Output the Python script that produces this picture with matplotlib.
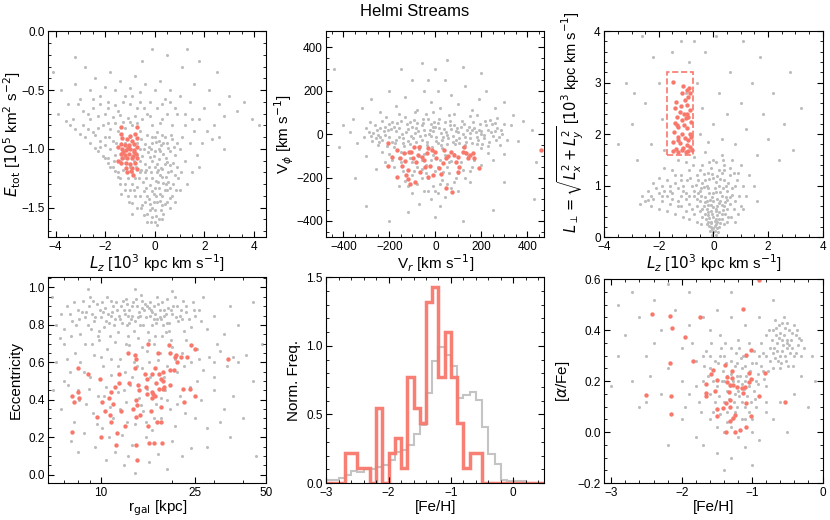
import numpy as np
import matplotlib
matplotlib.use('Agg')
import matplotlib.pyplot as plt
from matplotlib.ticker import AutoMinorLocator, FixedLocator, NullFormatter, ScalarFormatter
from matplotlib.patches import Rectangle

plt.rcParams['font.family'] = ['Liberation Sans', 'DejaVu Sans']
plt.rcParams['mathtext.fontset'] = 'dejavusans'

# colores
cor_fundo = '#bdbdbd'
cor_helmi = '#f8786c'

# ---- Lz vs Etot ----
helmi_lz_e = [(-1.38, -0.81), (-0.71, -0.81), (-1.36, -0.87), (-0.78, -0.87), (-1.33, -0.91),
              (-1.12, -0.92), (-0.92, -0.93), (-0.71, -0.91), (-1.38, -0.96), (-1.22, -0.97),
              (-1.04, -0.97), (-0.85, -0.96), (-0.71, -0.98), (-1.33, -1.00), (-1.15, -1.01),
              (-0.99, -1.00), (-0.83, -1.01), (-1.38, -1.04), (-1.22, -1.05), (-1.04, -1.04),
              (-0.87, -1.06), (-0.74, -1.04), (-1.33, -1.08), (-1.12, -1.08), (-0.92, -1.08),
              (-0.71, -1.08), (-1.38, -1.12), (-1.18, -1.12), (-0.99, -1.13), (-0.78, -1.12),
              (-1.15, -1.16), (-0.92, -1.16), (-1.12, -1.20), (-0.96, -1.19), (-0.88, -1.22),
              (-0.71, -1.17), (-1.29, -1.03), (-0.85, -1.03), (-1.10, -0.99), (-1.50, -1.10),
              (-1.48, -0.98), (-1.02, -0.89)]
fundo_lz_e = [(-0.3, -0.88), (0.1, -0.86), (0.4, -0.9), (0.7, -0.92), (-0.1, -0.95), (0.25, -0.97),
              (0.55, -0.99), (-0.45, -1.0), (0.0, -1.02), (0.35, -1.04), (0.8, -1.05), (-0.2, -1.07),
              (0.15, -1.09), (0.5, -1.11), (-0.4, -1.13), (0.0, -1.15), (0.3, -1.17), (0.65, -1.19),
              (-0.15, -1.2), (0.2, -1.22), (0.45, -1.24), (-0.35, -1.25), (0.05, -1.27), (0.35, -1.29),
              (0.75, -1.3), (-0.2, -1.31), (0.15, -1.33), (0.5, -1.35), (-0.45, -1.36), (-0.05, -1.38),
              (0.3, -1.4), (0.6, -1.42), (-0.25, -1.43), (0.1, -1.45), (0.4, -1.47), (-0.5, -1.48),
              (-0.1, -1.5), (0.25, -1.52), (-0.3, -1.55), (0.05, -1.57), (0.3, -1.6), (-0.15, -1.62),
              (0.1, -1.65), (-0.6, -1.4), (-0.7, -1.32), (-0.8, -1.25), (0.9, -1.15), (1.0, -1.0),
              (0.95, -1.25), (1.2, -1.1), (1.1, -0.9), (0.6, -1.5), (0.7, -0.8), (0.2, -0.78),
              (-0.1, -1.1), (0.1, -1.2), (-0.25, -0.98), (0.45, -1.08), (0.2, -1.38), (-0.35, -1.18),
              (0.55, -1.28), (0.0, -1.33), (-0.05, -1.45), (0.15, -0.93), (0.6, -1.14), (-0.2, -1.52),
              (-2.5, -0.65), (-2.2, -0.62), (-1.9, -0.6), (-1.6, -0.63), (-1.3, -0.6), (-1.0, -0.62),
              (-0.7, -0.65), (-2.3, -0.72), (-2.0, -0.7), (-1.7, -0.73), (-1.4, -0.71), (-1.1, -0.74),
              (-0.8, -0.72), (-0.5, -0.75), (-2.1, -0.8), (-1.8, -0.83), (-1.5, -0.85), (-1.2, -0.82),
              (-0.9, -0.8), (-0.6, -0.85), (-2.0, -0.9), (-1.7, -0.93), (-1.0, -0.9), (-0.7, -0.95),
              (-1.8, -1.0), (-1.6, -1.05), (-1.9, -1.08), (-1.7, -1.15), (-1.5, -1.2), (-1.3, -1.18),
              (-1.1, -1.25), (-0.9, -1.2), (-0.6, -1.1), (-1.2, -1.3), (-1.0, -1.35), (-0.8, -1.4),
              (-1.4, -1.25), (-0.6, -1.2), (-0.9, -1.3), (-3.9, -0.7), (-3.6, -0.76), (-3.4, -0.8),
              (-3.2, -0.83), (-3.0, -0.87), (-2.8, -0.9), (-2.6, -0.95), (-2.4, -0.99), (-2.3, -1.02),
              (-2.1, -1.06), (-2.0, -1.08), (-1.9, -1.12), (-1.8, -1.15), (-1.6, -1.19), (-1.5, -1.24),
              (-1.4, -1.3), (-1.2, -1.35), (-1.1, -1.4), (-0.9, -1.46), (-0.7, -1.5), (-3.3, -0.75),
              (-2.9, -0.8), (-2.5, -0.86), (-2.7, -0.83), (-2.2, -0.93), (-2.4, -0.88), (-4.1, -0.35),
              (-3.8, -0.5), (-3.5, -0.62), (-3.2, -0.45), (-3.0, -0.58), (-2.8, -0.3), (-2.6, -0.5),
              (-2.4, -0.4), (-2.2, -0.55), (-2.0, -0.47), (-1.8, -0.35), (-1.6, -0.5), (-1.4, -0.42),
              (-1.2, -0.55), (-1.0, -0.48), (-0.8, -0.38), (-0.6, -0.52), (-0.4, -0.45), (-0.2, -0.6),
              (0.0, -0.5), (0.2, -0.42), (0.4, -0.58), (0.6, -0.5), (0.8, -0.65), (1.0, -0.55),
              (1.2, -0.7), (1.4, -0.6), (1.6, -0.45), (1.8, -0.75), (2.0, -0.65), (2.2, -0.5),
              (2.4, -0.8), (2.6, -0.62), (2.8, -0.72), (3.0, -0.55), (3.3, -0.68), (3.6, -0.6),
              (3.9, -0.75), (4.2, -0.8), (2.5, -0.35), (1.1, -0.3), (-0.5, -0.25), (-3.2, -0.22),
              (-0.1, -0.15), (1.8, -0.25), (0.5, -0.2), (1.3, -0.15), (1.3, -1.3), (1.5, -1.2),
              (1.7, -1.05), (1.4, -0.95), (1.6, -0.85), (1.9, -0.95), (2.1, -0.85), (2.3, -0.92),
              (1.2, -0.8), (1.0, -1.35), (0.8, -1.45), (1.5, -0.75), (2.6, -0.9), (2.8, -1.0),
              (1.8, -1.15), (0.9, -0.7), (-0.3, -0.7), (0.1, -0.65), (0.5, -0.7), (-0.1, -0.8),
              (0.3, -0.75), (0.6, -0.6), (-0.6, -0.6)]
fundo_lz_e_denso = [(-0.55, -0.92), (-0.38, -0.96), (-0.12, -0.9), (0.05, -0.94), (0.28, -0.88),
                    (0.48, -0.95), (0.62, -1.02), (0.78, -0.98), (-0.5, -1.06), (-0.28, -1.03),
                    (-0.05, -1.06), (0.22, -1.02), (0.4, -1.13), (0.72, -1.12), (-0.55, -1.18),
                    (-0.25, -1.15), (0.08, -1.13), (0.25, -1.16), (0.52, -1.2), (0.82, -1.22),
                    (-0.48, -1.28), (-0.12, -1.25), (0.12, -1.28), (0.3, -1.24), (0.62, -1.33),
                    (-0.35, -1.33), (-0.1, -1.36), (0.4, -1.35), (0.05, -1.4), (-0.4, -1.45),
                    (0.22, -1.44), (0.5, -1.45), (-0.2, -1.47), (0.0, -1.52), (0.35, -1.55),
                    (-0.45, -1.56), (-0.1, -1.58), (0.18, -1.6), (-0.3, -1.62), (0.0, -1.62),
                    (0.65, -0.88), (0.9, -0.95), (0.85, -1.35), (1.05, -1.2), (-0.7, -1.05),
                    (-0.75, -1.15), (-0.65, -1.25), (-0.85, -1.35), (-0.55, -1.5), (0.15, -1.0),
                    (0.35, -0.95), (-0.15, -1.0), (-0.38, -1.2), (0.45, -1.3), (0.12, -1.18),
                    (-0.3, -1.4), (0.28, -1.48), (0.7, -1.4), (-0.6, -1.0), (0.0, -0.9),
                    (-2.6, -0.75), (-2.3, -0.82), (-1.9, -0.78), (-1.6, -0.78), (-1.3, -0.77),
                    (-1.0, -0.77), (-0.7, -0.78), (-2.2, -0.98), (-2.0, -0.97), (-1.85, -0.9),
                    (-1.55, -0.95), (-1.2, -0.95), (-1.65, -1.1), (-1.4, -1.1), (-1.25, -1.08),
                    (-1.0, -1.15), (-0.85, -1.1), (-1.35, -1.38), (-1.05, -1.45), (-0.9, -1.55),
                    (-2.5, -0.58), (-2.9, -0.68), (-3.1, -0.62), (-2.7, -0.7), (-0.45, -0.65),
                    (-0.2, -0.72), (0.3, -0.62), (-0.9, -0.55), (-1.5, -0.68), (-1.9, -0.65)]

# ---- Vr vs Vphi ----
helmi_vr_vphi = [(-204, -43), (-204, -148), (-190, -105), (-167, -71), (-167, -197), (-152, -108),
                 (-146, -148), (-138, -89), (-132, -123), (-128, -189), (-120, -166), (-117, -209),
                 (-109, -228), (-106, -82), (-99, -112), (-91, -58), (-88, -220), (-84, -128),
                 (-77, -97), (-70, -58), (-65, -174), (-59, -105), (-51, -120), (-45, -151),
                 (-36, -89), (-30, -197), (-22, -148), (-16, -74), (-12, -189), (-1, -82), (3, -112),
                 (17, -158), (25, -182), (32, -135), (39, -74), (46, -108), (46, -248), (57, -102),
                 (72, -266), (80, -97), (90, -128), (97, -174), (100, -105), (104, -151), (119, -82),
                 (126, -58), (133, -89), (141, -108), (152, -97), (162, -89), (170, -108), (191, -158),
                 (462, -74), (-113, -82), (-33, -66), (68, -82)]
fundo_vr_vphi = [(-290, 10), (-260, -20), (-240, 30), (-220, -5), (-200, 45), (-190, -35), (-170, 15),
                 (-150, 60), (-140, -20), (-120, 25), (-110, -45), (-90, 5), (-80, 50), (-60, -25),
                 (-50, 20), (-30, 70), (-20, -10), (0, 35), (10, -40), (25, 5), (40, 55), (55, -20),
                 (70, 25), (85, -45), (100, 10), (115, 60), (130, -15), (145, 35), (160, -40), (175, 10),
                 (195, 45), (210, -20), (230, 20), (250, -10), (270, 30), (290, 0), (310, -25),
                 (-310, -15), (-230, 60), (-130, 80), (-40, 95), (60, 90), (150, 85), (240, 65),
                 (-180, -60), (-70, -70), (30, -65), (120, -60), (200, -65), (-250, -50), (280, -50),
                 (-275, -30), (-205, 20), (-160, -15), (-100, 35), (-45, -5), (-10, 15), (35, -15),
                 (80, 40), (120, 0), (185, -25), (220, 40), (260, 15), (-120, -30), (-20, 45),
                 (90, -25), (160, 20), (-60, 40), (15, 70), (-180, 35), (200, 0), (-240, -15),
                 (-200, -90), (-160, -110), (-130, -85), (-100, -130), (-70, -100), (-40, -140),
                 (-10, -95), (20, -120), (50, -150), (80, -90), (110, -130), (140, -100), (170, -120),
                 (-220, -130), (-180, -150), (-60, -160), (0, -170), (60, -180), (120, -165), (200, -140),
                 (-140, -170), (-100, -190), (-30, -200), (30, -210), (90, -200), (-80, -230), (-10, -240),
                 (50, -230), (-130, -215), (10, -270), (-50, -260), (70, -250), (-20, -300), (40, -290),
                 (-100, -270), (100, -260), (-160, -240), (150, -220), (20, -330), (-70, -320),
                 (-320, 120), (-280, 160), (-240, 100), (-200, 200), (-170, 130), (-130, 170), (-100, 250),
                 (-80, 110), (-50, 200), (-20, 150), (0, 300), (20, 120), (40, 250), (70, 180), (100, 140),
                 (130, 220), (160, 110), (190, 160), (220, 200), (260, 120), (300, 150), (340, 90),
                 (-360, 70), (-60, 330), (50, 340), (200, 280), (-150, 300), (120, 310), (10, 200),
                 (-30, 250), (380, 60), (-400, 40), (420, 20), (-340, -40), (-370, 10), (330, 40),
                 (360, -30), (300, -90), (-300, -100), (250, -120), (-260, -160), (-420, -60),
                 (440, -130), (-440, 300), (430, -300), (-350, -200), (300, -220), (-300, -330),
                 (250, -350), (-200, -400), (0, -380), (120, -400), (-120, -360)]
fundo_vr_vphi_denso = [(-270, 5), (-245, -35), (-225, 15), (-210, -55), (-195, 25), (-175, -40), (-165, 50),
                       (-145, 0), (-135, -55), (-125, 45), (-105, -10), (-95, 65), (-85, -35), (-75, 15),
                       (-65, -55), (-55, 70), (-35, -35), (-25, 20), (-15, -60), (-5, 55), (5, -15), (15, 30),
                       (25, -50), (45, 10), (50, -45), (65, 60), (75, -10), (95, 30), (105, -40), (125, 45),
                       (135, -35), (150, 5), (165, 55), (180, -15), (190, 20), (205, -45), (215, 60),
                       (235, -35), (245, 45), (265, -25), (285, 20), (300, 45), (-300, 30), (-285, 55),
                       (-255, 20), (-215, 80), (-160, 95), (-90, 100), (-10, 100), (80, 95), (180, 90),
                       (270, 75), (-230, -80), (-150, -80), (-50, -90), (40, -95), (130, -80), (230, -85),
                       (-110, -110), (-20, -120), (70, -125), (160, -150), (-190, -120), (-80, -150),
                       (100, -180), (-40, -180), (20, -230), (-120, -240), (80, -220), (0, -260),
                       (-60, -200), (130, -200), (-280, -10), (-262, 40), (-248, -5), (-232, -25),
                       (-218, 35), (-202, -15), (-188, 55), (-172, -25), (-158, 30), (-142, -40),
                       (-128, 10), (-112, 55), (-98, -20), (-82, 30), (-68, -10), (-52, 50), (-38, -50),
                       (-28, 0), (-12, 35), (2, -30), (12, 50), (28, -25), (38, 25), (52, -5), (62, 40),
                       (78, -35), (88, 15), (102, -20), (112, 35), (128, -50), (138, 20), (152, -20),
                       (168, 30), (182, -45), (198, 15), (212, -5), (228, -55), (242, 10), (258, 50),
                       (275, -15), (-60, -120), (10, -150), (-150, -130), (60, -130), (150, -170),
                       (-30, -260), (35, -175), (-95, -170)]

# ---- Lz vs Lperp ----
helmi_lz_lperp = [(-1.47, 3.02), (-1.11, 2.94), (-0.98, 2.85), (-0.90, 2.90), (-1.16, 2.79), (-0.92, 2.72),
                  (-1.04, 2.66), (-1.38, 2.63), (-0.98, 2.56), (-0.86, 2.47), (-1.41, 2.50), (-1.23, 2.43),
                  (-1.07, 2.40), (-1.35, 2.34), (-0.92, 2.34), (-1.16, 2.27), (-1.02, 2.31), (-1.41, 2.21),
                  (-0.82, 2.23), (-1.29, 2.14), (-0.98, 2.11), (-1.43, 2.04), (-1.14, 2.01), (-0.86, 2.01),
                  (-1.31, 1.95), (-1.04, 1.92), (-0.92, 1.89), (-1.47, 1.85), (-1.23, 1.82), (-0.98, 1.79),
                  (-1.38, 1.72), (-1.11, 1.73), (-0.86, 1.75), (-1.29, 1.66), (-1.02, 1.65), (-1.16, 1.69),
                  (-1.47, 1.67), (-0.93, 1.67), (-0.82, 1.95), (-1.35, 2.17), (-1.07, 2.17), (-1.20, 2.55),
                  (-0.95, 2.40), (-1.29, 1.89), (-0.80, 1.70), (-0.84, 2.80)]
fundo_lz_lperp = [(0.0, 0.1), (-0.1, 0.2), (0.1, 0.25), (-0.2, 0.3), (0.2, 0.35), (0.0, 0.4), (-0.3, 0.45),
                  (0.3, 0.45), (-0.1, 0.5), (0.1, 0.55), (-0.4, 0.55), (0.4, 0.6), (-0.2, 0.62), (0.2, 0.66),
                  (-0.5, 0.7), (0.0, 0.7), (0.5, 0.72), (-0.3, 0.78), (0.3, 0.8), (-0.7, 0.8), (0.7, 0.82),
                  (0.0, 0.85), (-0.5, 0.9), (0.5, 0.9), (-0.2, 0.95), (0.2, 1.0), (-0.8, 1.0), (0.8, 1.0),
                  (-0.4, 1.05), (0.4, 1.1), (0.0, 1.15), (-0.6, 1.2), (0.6, 1.2), (-0.2, 1.25), (0.2, 1.3),
                  (-0.9, 1.3), (0.9, 1.25), (-0.4, 1.4), (0.4, 1.4), (0.0, 1.5), (-0.7, 1.55), (0.7, 1.5),
                  (-0.3, 1.65), (0.3, 1.6), (0.1, 0.05), (-0.05, 0.15), (0.15, 0.18), (-0.25, 0.25),
                  (0.25, 0.28), (0.05, 0.32), (-0.15, 0.38), (0.12, 0.42), (-0.35, 0.6), (0.35, 0.52),
                  (-0.6, 0.6), (0.6, 0.65), (-0.1, 0.3), (0.05, 0.22), (-0.2, 0.48), (0.15, 0.6),
                  (-0.05, 0.78), (0.25, 0.88), (-0.35, 0.98), (0.1, 1.08), (-0.15, 1.12), (0.45, 0.78),
                  (-0.45, 0.8), (0.0, 0.58), (-1.0, 0.5), (-1.3, 0.6), (-1.6, 0.65), (-1.9, 0.7),
                  (-2.2, 0.75), (-2.5, 0.7), (-2.7, 0.65), (-1.2, 0.8), (-1.5, 0.85), (-1.8, 0.9),
                  (-2.1, 0.95), (-2.4, 0.9), (-1.1, 1.0), (-1.4, 1.05), (-1.7, 1.1), (-2.0, 1.15),
                  (-1.2, 1.2), (-1.5, 1.3), (-1.8, 1.35), (-1.1, 0.4), (-1.4, 0.45), (-0.9, 0.65),
                  (-2.0, 0.55), (-2.3, 0.6), (-1.0, 1.45), (-1.3, 1.5), (1.0, 0.6), (1.2, 0.8), (0.9, 0.45),
                  (1.1, 1.0), (1.3, 1.2), (1.0, 1.4), (1.5, 1.0), (0.8, 0.3), (1.6, 0.7), (-3.5, 1.8),
                  (-3.0, 2.2), (-2.8, 1.5), (-2.5, 2.6), (-2.3, 1.8), (-2.0, 3.0), (-2.2, 3.5), (-1.9, 2.3),
                  (-2.6, 3.9), (-1.5, 3.6), (-1.2, 3.8), (-0.9, 3.4), (-0.6, 3.0), (-0.4, 2.5), (-0.5, 2.0),
                  (-0.3, 3.6), (0.0, 2.2), (0.2, 2.8), (0.3, 1.9), (0.5, 2.4), (0.6, 3.2), (0.8, 1.8),
                  (1.0, 2.6), (1.2, 2.1), (1.4, 3.0), (1.6, 1.6), (1.8, 2.4), (2.0, 1.9), (2.2, 2.8),
                  (2.4, 1.5), (2.6, 2.2), (2.9, 1.7), (3.2, 2.5), (1.7, 3.5), (-1.0, 2.8), (-0.2, 1.85),
                  (-3.2, 3.0), (-1.8, 1.7), (0.1, 3.9), (-0.7, 3.8), (2.8, 3.2), (-2.9, 2.8), (1.1, 3.8)]
fundo_lz_lperp_denso = [(-0.05, 0.05), (0.05, 0.12), (-0.12, 0.12), (0.18, 0.1), (-0.08, 0.28), (0.08, 0.35),
                        (-0.28, 0.35), (0.3, 0.35), (-0.18, 0.42), (0.22, 0.48), (-0.4, 0.4), (0.42, 0.45),
                        (-0.08, 0.62), (0.3, 0.62), (-0.5, 0.5), (0.5, 0.55), (-0.25, 0.7), (0.15, 0.75),
                        (-0.6, 0.75), (0.6, 0.78), (-0.15, 0.85), (0.35, 0.95), (-0.45, 0.95), (0.05, 0.95),
                        (-0.7, 0.9), (0.7, 0.95), (-0.3, 1.1), (0.15, 1.18), (-0.55, 1.1), (0.55, 1.05),
                        (-0.1, 1.35), (0.3, 1.25), (-0.75, 1.4), (0.6, 1.35), (0.1, 1.45), (-0.5, 1.3),
                        (-0.8, 0.55), (0.75, 0.55), (-1.0, 0.75), (-1.2, 0.6), (-1.5, 0.75), (-1.7, 0.8),
                        (-2.0, 0.85), (-2.3, 0.8), (-2.6, 0.8), (-1.3, 0.95), (-1.6, 1.0), (-1.9, 1.0),
                        (-2.2, 1.05), (-1.0, 0.85), (-0.85, 1.15), (-1.4, 1.2), (0.95, 0.8), (1.1, 0.55),
                        (0.85, 1.1), (-1.7, 0.5), (-0.9, 0.35), (0.5, 0.3), (-0.6, 0.3), (0.65, 0.4),
                        (0.0, 0.18), (-0.15, 0.22), (0.12, 0.3), (-0.05, 0.45), (0.2, 0.2), (-0.22, 0.55),
                        (0.08, 0.5), (-0.32, 0.68), (0.25, 0.7), (-0.12, 0.72), (0.42, 0.68), (-0.55, 0.85),
                        (0.1, 0.88), (0.45, 1.0), (-0.25, 1.0), (-0.65, 1.02), (0.25, 1.12), (-0.05, 1.22),
                        (0.4, 1.3), (-0.35, 1.22), (-0.9, 0.8), (-1.1, 0.9), (-1.3, 0.7), (-1.6, 0.9),
                        (-1.9, 0.8), (-2.4, 0.72), (-0.7, 0.45), (0.55, 0.4), (-0.45, 0.25), (0.4, 0.25),
                        (0.8, 0.7), (-1.2, 1.1), (-0.95, 1.1), (0.75, 1.25), (-0.15, 1.45), (0.35, 1.5)]

# ---- rgal vs excentricidade ----
helmi_r_ecc = [(7.58, 0.42), (7.68, 0.39), (7.58, 0.23), (8.02, 0.57), (8.02, 0.44), (8.07, 0.41),
               (8.85, 0.54), (9.61, 0.31), (9.93, 0.51), (10.0, 0.20), (10.17, 0.39), (10.44, 0.34),
               (10.79, 0.41), (10.97, 0.32), (11.04, 0.44), (11.07, 0.28), (11.26, 0.38), (11.52, 0.47),
               (11.64, 0.16), (11.71, 0.22), (11.9, 0.49), (11.99, 0.54), (12.19, 0.34), (12.64, 0.26),
               (13.06, 0.65), (13.14, 0.49), (13.68, 0.35), (13.96, 0.57), (13.96, 0.64), (14.05, 0.31),
               (14.05, 0.40), (14.05, 0.16), (14.14, 0.62), (14.28, 0.08), (14.28, 0.37), (14.42, 0.48),
               (14.51, 0.45), (14.66, 0.32), (15.4, 0.54), (15.5, 0.47), (15.6, 0.51), (15.6, 0.43),
               (15.76, 0.70), (15.76, 0.26), (16.02, 0.17), (16.29, 0.34), (16.4, 0.54), (16.4, 0.44),
               (16.45, 0.41), (16.56, 0.43), (16.73, 0.17), (16.96, 0.57), (16.96, 0.42), (17.13, 0.49),
               (17.31, 0.28), (17.43, 0.65), (17.55, 0.54), (17.66, 0.46), (17.9, 0.36), (18.02, 0.51),
               (18.02, 0.28), (18.14, 0.17), (18.26, 0.55), (18.32, 0.46), (18.32, 0.50), (18.44, 0.47),
               (19.41, 0.69), (19.53, 0.56), (19.66, 0.48), (19.66, 0.65), (20.33, 0.56), (20.53, 0.63),
               (20.73, 0.64), (21.0, 0.60), (21.77, 0.63), (22.14, 0.46), (22.44, 0.39), (23.2, 0.63),
               (23.84, 0.46), (24.09, 0.69), (24.93, 0.67), (25.0, 0.42), (34.5, 0.62)]
fundo_r_ecc = [(6.8, 0.86), (7.2, 0.9), (7.6, 0.82), (8.0, 0.88), (8.4, 0.93), (8.8, 0.8), (9.2, 0.86),
               (9.6, 0.91), (10.0, 0.84), (10.4, 0.89), (10.8, 0.81), (11.2, 0.87), (11.6, 0.92), (12.0, 0.83),
               (12.5, 0.88), (13.0, 0.85), (13.5, 0.9), (14.0, 0.82), (14.5, 0.87), (15.0, 0.93), (15.5, 0.84),
               (16.0, 0.89), (16.5, 0.8), (17.0, 0.86), (17.5, 0.91), (18.0, 0.83), (18.5, 0.88), (19.0, 0.94),
               (19.5, 0.81), (20.0, 0.86), (21.0, 0.9), (22.0, 0.83), (23.0, 0.87), (24.0, 0.79), (25.0, 0.85),
               (26.5, 0.82), (28.0, 0.78), (7.0, 0.78), (8.2, 0.75), (9.0, 0.95), (9.8, 0.77), (10.6, 0.95),
               (11.8, 0.76), (12.8, 0.94), (13.8, 0.77), (14.8, 0.96), (15.8, 0.76), (17.2, 0.95), (18.8, 0.76),
               (20.5, 0.95), (22.5, 0.77), (24.5, 0.92), (11.0, 0.85), (13.2, 0.81), (15.2, 0.88), (17.8, 0.84),
               (12.2, 0.9), (16.2, 0.92), (9.4, 0.82), (10.2, 0.87), (11.4, 0.8), (12.7, 0.86), (14.2, 0.9),
               (16.8, 0.83), (19.2, 0.89), (21.5, 0.85), (8.6, 0.84), (13.6, 0.85), (18.3, 0.8),
               (6.5, 0.6), (7.0, 0.7), (7.4, 0.55), (7.8, 0.65), (8.2, 0.6), (8.6, 0.7), (9.0, 0.52),
               (9.4, 0.64), (9.8, 0.72), (10.2, 0.58), (10.6, 0.67), (11.0, 0.53), (11.5, 0.71), (12.0, 0.62),
               (12.6, 0.55), (13.2, 0.69), (13.8, 0.6), (14.4, 0.73), (15.0, 0.57), (15.6, 0.66), (16.2, 0.52),
               (16.8, 0.7), (17.5, 0.61), (18.2, 0.74), (19.0, 0.58), (20.0, 0.68), (21.0, 0.55), (22.0, 0.65),
               (23.0, 0.72), (24.0, 0.6), (25.5, 0.67), (27.0, 0.56), (28.5, 0.63), (30.0, 0.6), (32.0, 0.66),
               (34.0, 0.58), (36.0, 0.63), (38.0, 0.6), (41.0, 0.64), (6.3, 0.45), (6.8, 0.35), (7.3, 0.48),
               (7.7, 0.28), (8.1, 0.4), (8.5, 0.22), (8.9, 0.46), (9.3, 0.33), (9.7, 0.42), (10.1, 0.25),
               (10.5, 0.47), (10.9, 0.36), (11.3, 0.3), (11.8, 0.44), (12.3, 0.21), (12.8, 0.39), (13.3, 0.48),
               (13.9, 0.27), (14.5, 0.41), (15.1, 0.34), (15.7, 0.46), (16.4, 0.24), (17.1, 0.38), (17.9, 0.3),
               (18.7, 0.45), (19.6, 0.35), (20.5, 0.26), (21.5, 0.42), (22.6, 0.33), (23.8, 0.47), (25.0, 0.3),
               (26.5, 0.4), (28.0, 0.25), (30.0, 0.45), (33.0, 0.35), (36.0, 0.42), (40.0, 0.3), (44.0, 0.5),
               (7.5, 0.18), (9.5, 0.15), (11.5, 0.12), (13.5, 0.16), (15.5, 0.2), (17.5, 0.11), (20.0, 0.18),
               (24.0, 0.14), (10.5, 0.08), (12.5, 0.05), (16.0, 0.07), (19.0, 0.03), (14.0, 0.01), (8.0, 0.12),
               (28.0, 0.15), (35.0, 0.2), (45.0, 0.1), (22.0, 0.1), (6.2, 0.95), (6.5, 0.8), (8.8, 0.99),
               (14.0, 0.99), (20.0, 0.98), (30.0, 0.85), (33.0, 0.75), (38.0, 0.8), (44.0, 0.92), (48.0, 0.7),
               (35.0, 0.9), (27.0, 0.95), (31.0, 0.7)]
fundo_r_ecc_denso = [(8.3, 0.87), (8.9, 0.9), (9.5, 0.84), (10.1, 0.92), (10.7, 0.86), (11.3, 0.9), (11.9, 0.85),
                     (12.4, 0.93), (13.1, 0.88), (13.7, 0.92), (14.3, 0.84), (14.9, 0.89), (15.4, 0.91),
                     (16.1, 0.85), (16.7, 0.9), (17.3, 0.83), (18.1, 0.92), (18.9, 0.86), (19.8, 0.88),
                     (20.7, 0.84), (21.8, 0.88), (23.5, 0.83), (7.4, 0.86), (7.9, 0.8), (9.1, 0.78),
                     (10.3, 0.79), (11.5, 0.83), (12.9, 0.8), (14.7, 0.8), (16.5, 0.87), (19.5, 0.77),
                     (22.8, 0.9), (26.0, 0.88), (6.7, 0.73), (9.2, 0.7), (10.9, 0.74), (12.8, 0.7),
                     (14.9, 0.68), (17.0, 0.74), (19.8, 0.72), (7.2, 0.62), (8.5, 0.55), (10.0, 0.63),
                     (11.8, 0.58), (13.5, 0.52), (16.0, 0.6), (18.5, 0.52), (22.5, 0.58), (26.0, 0.62),
                     (7.0, 0.5), (8.7, 0.38), (10.3, 0.42), (12.0, 0.35), (14.8, 0.37), (18.0, 0.41),
                     (21.0, 0.38), (9.6, 0.27), (12.9, 0.28), (16.8, 0.3), (25.5, 0.5), (30.0, 0.52),
                     (32.0, 0.28), (7.7, 0.92), (8.1, 0.83), (8.7, 0.87), (9.3, 0.93), (9.9, 0.88),
                     (10.5, 0.82), (11.1, 0.93), (11.7, 0.88), (12.3, 0.81), (12.9, 0.91), (13.4, 0.83),
                     (14.1, 0.94), (14.6, 0.85), (15.1, 0.8), (15.7, 0.9), (16.3, 0.88), (17.1, 0.81),
                     (17.7, 0.88), (18.4, 0.85), (19.1, 0.81), (20.2, 0.9), (21.2, 0.82), (22.2, 0.93),
                     (24.8, 0.88), (9.7, 0.74), (13.0, 0.74), (16.0, 0.72), (7.5, 0.74), (11.0, 0.62),
                     (14.2, 0.58), (17.8, 0.65), (20.5, 0.62), (8.0, 0.45), (12.5, 0.45), (15.5, 0.28),
                     (19.0, 0.4), (10.8, 0.2), (13.0, 0.1)]

# ---- histograma [Fe/H] ----
bordas_feh = [-3.0, -2.9, -2.8, -2.7, -2.6, -2.5, -2.4, -2.3, -2.2, -2.1, -2.0, -1.9, -1.8, -1.7, -1.6,
              -1.5, -1.4, -1.3, -1.2, -1.1, -1.0, -0.9, -0.8, -0.7, -0.6, -0.5, -0.4, -0.3, -0.2, -0.1,
              0.0, 0.1, 0.2, 0.3, 0.4, 0.5]
freq_fundo = [0.02, 0.025, 0.035, 0.06, 0.085, 0.08, 0.10, 0.10, 0.12, 0.13, 0.17, 0.23, 0.24, 0.28,
              0.36, 0.42, 0.655, 0.89, 0.99, 0.93, 0.85, 0.62, 0.645, 0.66, 0.606, 0.41, 0.21, 0.14,
              0.024, 0.017, 0.017, 0.012, 0.0, 0.0, 0.0]
freq_helmi = [0.0, 0.0, 0.0, 0.22, 0.22, 0.11, 0.11, 0.0, 0.55, 0.0, 0.22, 0.33, 0.11, 0.77, 0.55,
              0.44, 1.32, 1.43, 0.77, 1.10, 0.77, 0.44, 0.11, 0.22, 0.22, 0.0, 0.0, 0.0, 0.0, 0.0,
              0.0, 0.0, 0.0, 0.0, 0.0]

# ---- [Fe/H] vs [alpha/Fe] ----
helmi_feh_alfa = [(-0.90, 0.597), (-1.13, 0.485), (-2.42, 0.463), (-2.17, 0.454), (-1.74, 0.451),
                  (-2.14, 0.407), (-1.95, 0.373), (-1.02, 0.323), (-1.09, 0.302), (-1.84, 0.281),
                  (-2.16, 0.271), (-1.39, 0.263), (-1.56, 0.242), (-1.29, 0.241), (-1.59, 0.229),
                  (-1.05, 0.231), (-0.81, 0.231), (-1.36, 0.216), (-1.28, 0.213), (-1.50, 0.203),
                  (-1.02, 0.210), (-1.04, 0.197), (-1.35, 0.197), (-1.66, 0.187), (-1.27, 0.186),
                  (-1.22, 0.178), (-1.31, 0.183), (-1.15, 0.173), (-1.10, 0.179), (-1.52, 0.163),
                  (-1.33, 0.156), (-1.13, 0.153), (-1.66, 0.153), (-1.65, 0.142), (-2.51, 0.144),
                  (-2.15, 0.141), (-0.90, 0.141), (-0.54, 0.120), (-1.31, 0.127), (-1.37, 0.116),
                  (-1.09, 0.116), (-1.32, 0.100), (-1.41, 0.094), (-1.50, 0.090), (-1.25, 0.068),
                  (-1.50, 0.064), (-1.01, 0.064), (-2.15, 0.073), (-1.27, 0.055), (-1.32, 0.043),
                  (-1.08, 0.022), (-1.37, 0.001), (-1.24, 0.000), (-1.17, 0.009)]
fundo_feh_alfa = [(-1.6, 0.25), (-1.5, 0.18), (-1.45, 0.3), (-1.4, 0.12), (-1.35, 0.22), (-1.3, 0.28),
                  (-1.25, 0.15), (-1.2, 0.2), (-1.15, 0.25), (-1.1, 0.1), (-1.05, 0.18), (-1.0, 0.27),
                  (-0.95, 0.2), (-0.9, 0.14), (-0.85, 0.24), (-1.55, 0.08), (-1.28, 0.05), (-1.18, 0.33),
                  (-1.38, 0.35), (-0.98, 0.32), (-1.22, 0.1), (-1.12, 0.17), (-1.32, 0.18), (-1.42, 0.24),
                  (-1.08, 0.22), (-1.7, 0.2), (-1.75, 0.12), (-1.65, 0.32), (-0.8, 0.18), (-0.75, 0.28),
                  (-1.5, 0.02), (-1.2, -0.02), (-1.0, 0.05), (-0.9, 0.3), (-1.25, 0.26), (-1.15, 0.05),
                  (-1.35, 0.08), (-1.6, 0.15), (-1.05, 0.35), (-1.45, 0.38), (-1.22, 0.22), (-1.18, 0.14),
                  (-1.3, 0.23), (-1.1, 0.26), (-1.4, 0.2), (-1.02, 0.12), (-0.92, 0.23), (-1.48, 0.27),
                  (-0.8, 0.38), (-0.75, 0.33), (-0.7, 0.4), (-0.65, 0.35), (-0.6, 0.3), (-0.55, 0.38),
                  (-0.5, 0.33), (-0.45, 0.36), (-0.4, 0.3), (-0.35, 0.34), (-0.62, 0.42), (-0.52, 0.28),
                  (-0.68, 0.29), (-0.58, 0.36), (-0.48, 0.4), (-0.72, 0.36), (-0.42, 0.26), (-0.3, 0.3),
                  (-0.6, 0.25), (-0.55, 0.45), (-0.64, 0.32), (-0.5, 0.36), (-0.38, 0.38), (-0.66, 0.38),
                  (-2.9, 0.5), (-2.8, 0.38), (-2.7, 0.55), (-2.6, 0.45), (-2.5, 0.3), (-2.4, 0.52),
                  (-2.3, 0.4), (-2.2, 0.25), (-2.1, 0.48), (-2.0, 0.33), (-1.9, 0.42), (-1.8, 0.28),
                  (-1.9, 0.15), (-2.0, 0.05), (-1.8, -0.02), (-1.7, 0.45), (-1.6, 0.4), (-1.5, 0.48),
                  (-1.3, 0.45), (-1.1, 0.42), (-0.9, 0.45), (-2.3, 0.15), (-2.5, 0.12), (-2.7, 0.2),
                  (-2.9, 0.3), (-3.0, 0.18), (-1.7, -0.05), (-1.5, -0.08), (-1.3, -0.1), (-1.1, -0.06),
                  (-0.9, -0.03), (-0.7, 0.05), (-0.6, 0.12), (-0.4, 0.15), (-0.3, 0.22), (-0.2, 0.1),
                  (-0.15, 0.3), (-0.1, 0.2), (-1.4, -0.15), (-1.0, -0.13), (-2.2, 0.58), (-1.3, 0.55),
                  (-0.7, 0.52), (-2.6, 0.1), (-2.2, -0.05), (-0.5, 0.0), (-0.8, 0.08), (-1.9, 0.55),
                  (-2.45, 0.22)]
fundo_feh_alfa_denso = [(-1.62, 0.22), (-1.52, 0.28), (-1.47, 0.14), (-1.43, 0.2), (-1.37, 0.27), (-1.33, 0.13),
                        (-1.27, 0.2), (-1.23, 0.31), (-1.2, 0.16), (-1.17, 0.22), (-1.13, 0.3), (-1.1, 0.2),
                        (-1.07, 0.14), (-1.03, 0.24), (-0.98, 0.16), (-0.95, 0.27), (-0.92, 0.19), (-0.88, 0.26),
                        (-0.83, 0.21), (-1.4, 0.3), (-1.3, 0.33), (-1.25, 0.08), (-1.15, 0.12), (-1.05, 0.08),
                        (-0.95, 0.1), (-1.55, 0.2), (-1.36, 0.04), (-1.45, 0.07), (-1.6, 0.3), (-0.78, 0.24),
                        (-0.85, 0.31), (-1.68, 0.26), (-0.6, 0.39), (-0.57, 0.32), (-0.53, 0.41), (-0.46, 0.31),
                        (-0.44, 0.39), (-0.69, 0.33), (-0.63, 0.28), (-0.51, 0.35), (-0.37, 0.31), (-0.33, 0.37),
                        (-0.76, 0.4), (-0.4, 0.42), (-0.26, 0.33), (-0.58, 0.43), (-0.67, 0.44), (-0.49, 0.26),
                        (-0.7, 0.25), (-0.8, 0.3), (-1.8, 0.18), (-1.7, 0.3), (-1.85, 0.35), (-2.0, 0.2),
                        (-1.6, 0.05), (-1.4, 0.0), (-1.0, 0.0), (-0.8, 0.12), (-1.95, 0.1), (-2.4, 0.35),
                        (-1.28, 0.24), (-1.21, 0.27), (-1.14, 0.19), (-1.35, 0.16), (-1.26, 0.12), (-1.16, 0.29),
                        (-1.08, 0.3), (-1.44, 0.33), (-1.52, 0.12), (-1.0, 0.21), (-0.96, 0.13), (-1.1, 0.05),
                        (-1.3, 0.02), (-1.58, 0.35), (-1.2, 0.36), (-0.88, 0.35), (-1.72, 0.08), (-0.56, 0.34),
                        (-0.47, 0.34), (-0.62, 0.37), (-0.54, 0.3), (-0.43, 0.33), (-0.71, 0.31), (-0.66, 0.41),
                        (-0.36, 0.4), (-0.5, 0.43), (-0.3, 0.36), (-0.59, 0.27)]

# caixa de selecao no painel Lz-Lperp
caixa_lz = (-1.7, -0.75)
caixa_lperp = (1.6, 3.2)


def estilo_eixo(ax):
    ax.tick_params(which='both', direction='in', top=True, right=True, labelsize=8.5, pad=2.5)
    ax.tick_params(which='major', length=4)
    ax.tick_params(which='minor', length=2)


def espalha(ax, fundo, helmi):
    f = np.array(fundo).T
    h = np.array(helmi).T
    ax.scatter(f[0], f[1], s=5, color=cor_fundo, linewidths=0)
    ax.scatter(h[0], h[1], s=10, color=cor_helmi, linewidths=0)


fig = plt.figure(figsize=(8.3, 5.2), dpi=100)
w, h = 0.263, 0.396
x0 = [0.058, 0.393, 0.728]
ax1 = fig.add_axes([x0[0], 0.544, w, h])
ax2 = fig.add_axes([x0[1], 0.544, w, h])
ax3 = fig.add_axes([x0[2], 0.544, w, h])
ax4 = fig.add_axes([x0[0], 0.071, w, h])
ax5 = fig.add_axes([x0[1], 0.071, w, h])
ax6 = fig.add_axes([x0[2], 0.071, w, 0.392])

rotulo = 11

# painel 1
espalha(ax1, fundo_lz_e + fundo_lz_e_denso, helmi_lz_e)
ax1.set_xlim(-4.3, 4.5)
ax1.set_ylim(-1.75, 0)
ax1.set_xticks([-4, -2, 0, 2, 4])
ax1.set_yticks([0.0, -0.5, -1.0, -1.5])
ax1.set_xlabel(r'$L_z$ [$10^3$ kpc km s$^{-1}$]', fontsize=rotulo, labelpad=0)
ax1.set_ylabel(r'$E_{\rm tot}$ [$10^5$ km$^2$ s$^{-2}$]', fontsize=rotulo, labelpad=-1)

# painel 2
espalha(ax2, fundo_vr_vphi + fundo_vr_vphi_denso, helmi_vr_vphi)
ax2.set_xlim(-475, 475)
ax2.set_ylim(-475, 475)
ax2.set_xticks([-400, -200, 0, 200, 400])
ax2.set_yticks([-400, -200, 0, 200, 400])
ax2.set_xlabel(r'V$_r$ [km s$^{-1}$]', fontsize=rotulo, labelpad=0)
ax2.set_ylabel(r'V$_\phi$ [km s$^{-1}$]', fontsize=rotulo, labelpad=0)

# painel 3
espalha(ax3, fundo_lz_lperp + fundo_lz_lperp_denso, helmi_lz_lperp)
ax3.add_patch(Rectangle((caixa_lz[0], caixa_lperp[0]), caixa_lz[1] - caixa_lz[0],
                        caixa_lperp[1] - caixa_lperp[0], fill=False, edgecolor=cor_helmi,
                        linestyle='--', linewidth=1.2))
ax3.set_xlim(-4, 4)
ax3.set_ylim(0, 4)
ax3.set_xticks([-4, -2, 0, 2, 4])
ax3.set_yticks([0, 1, 2, 3, 4])
ax3.set_xlabel(r'$L_z$ [$10^3$ kpc km s$^{-1}$]', fontsize=rotulo, labelpad=0)
ax3.set_ylabel(r'$L_\perp = \sqrt{L_x^2 + L_y^2}$ [$10^3$ kpc km s$^{-1}$]', fontsize=10.5)
ax3.yaxis.set_label_coords(-0.085, 0.56)

# painel 4
espalha(ax4, fundo_r_ecc + fundo_r_ecc_denso, helmi_r_ecc)
ax4.set_xscale('log')
ax4.set_xlim(6, 50)
ax4.set_ylim(-0.045, 1.055)
ax4.xaxis.set_major_locator(FixedLocator([10, 25, 50]))
ax4.xaxis.set_major_formatter(ScalarFormatter())
ax4.xaxis.set_minor_formatter(NullFormatter())
ax4.set_yticks([0.0, 0.2, 0.4, 0.6, 0.8, 1.0])
ax4.set_xlabel(r'r$_{\rm gal}$ [kpc]', fontsize=rotulo, labelpad=0)
ax4.set_ylabel('Eccentricity', fontsize=rotulo, labelpad=4)

# painel 5
ax5.stairs(freq_fundo, bordas_feh, color='#c4c4c4', linewidth=1.5)
ax5.stairs(freq_helmi, bordas_feh, color=cor_helmi, linewidth=2.5, alpha=0.95)
ax5.set_xlim(-3, 0.5)
ax5.set_ylim(0, 1.5)
ax5.set_xticks([-3, -2, -1, 0])
ax5.set_yticks([0.0, 0.5, 1.0, 1.5])
ax5.set_xlabel('[Fe/H]', fontsize=rotulo, labelpad=1)
ax5.set_ylabel('Norm. Freq.', fontsize=rotulo, labelpad=4)

# painel 6
espalha(ax6, fundo_feh_alfa + fundo_feh_alfa_denso, helmi_feh_alfa)
ax6.set_xlim(-3.1, 0)
ax6.set_ylim(-0.2, 0.6)
ax6.set_xticks([-3, -2, -1, 0])
ax6.set_yticks([-0.2, 0.0, 0.2, 0.4, 0.6])
ax6.set_xlabel('[Fe/H]', fontsize=rotulo, labelpad=1)
ax6.set_ylabel(r'[$\alpha$/Fe]', fontsize=rotulo, labelpad=4)

for ax in [ax1, ax2, ax3, ax4, ax5, ax6]:
    estilo_eixo(ax)
    if ax is not ax4:
        ax.xaxis.set_minor_locator(AutoMinorLocator())
    ax.yaxis.set_minor_locator(AutoMinorLocator())

fig.text(0.5, 0.977, 'Helmi Streams', ha='center', va='center', fontsize=12)

plt.savefig('out.png', dpi=100)
plt.close()
